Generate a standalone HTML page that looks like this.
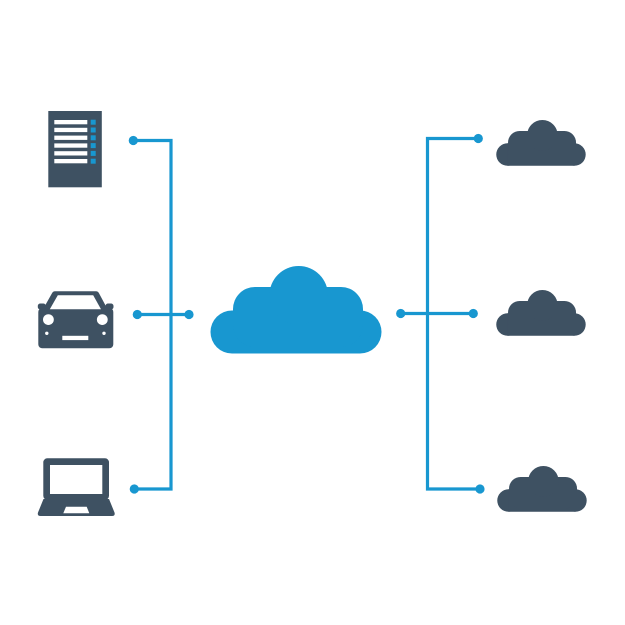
<!DOCTYPE html>
<html>
<head>
<meta charset="utf-8">
<style>
html,body{margin:0;padding:0;background:#ffffff;}
svg{display:block;}
</style>
</head>
<body>
<svg width="625" height="625" viewBox="0 0 625 625" xmlns="http://www.w3.org/2000/svg">
  <defs>
    <g id="cloud">
      <circle cx="232" cy="332" r="21.5"/>
      <circle cx="360" cy="332" r="21.5"/>
      <rect x="232" y="310.5" width="128" height="43"/>
      <rect x="233" y="287" width="130" height="60" rx="22" ry="22"/>
      <circle cx="298.7" cy="295.3" r="29.3"/>
    </g>
  </defs>

  <!-- connectors -->
  <g stroke="#1897d0" stroke-width="3.2" fill="none" stroke-linecap="butt">
    <polyline points="133,140.5 171,140.5 171,489 134,489"/>
    <line x1="137" y1="314.5" x2="189" y2="314.5"/>
    <polyline points="478.5,138.5 427.5,138.5 427.5,489 480,489"/>
    <line x1="400.7" y1="313.5" x2="473.3" y2="313.5"/>
  </g>
  <g fill="#1897d0">
    <circle cx="133.3" cy="140.5" r="4.6"/>
    <circle cx="137.3" cy="314.5" r="4.6"/>
    <circle cx="189" cy="314.5" r="4.6"/>
    <circle cx="134.3" cy="489" r="4.6"/>
    <circle cx="478.3" cy="138.5" r="4.6"/>
    <circle cx="400.7" cy="313.5" r="4.6"/>
    <circle cx="473.3" cy="313.5" r="4.6"/>
    <circle cx="480" cy="489" r="4.6"/>
  </g>

  <!-- central cloud -->
  <g fill="#1897d0"><use href="#cloud"/></g>

  <!-- right clouds -->
  <g fill="#3e5162">
    <g transform="translate(496,120) scale(0.523) translate(-210,-266)"><use href="#cloud"/></g>
    <g transform="translate(496,290) scale(0.523) translate(-210,-266)"><use href="#cloud"/></g>
    <g transform="translate(497,466) scale(0.523) translate(-210,-266)"><use href="#cloud"/></g>
  </g>

  <!-- server -->
  <rect x="48.3" y="111" width="53.5" height="76.3" fill="#3e5162"/>
  <g fill="#ffffff">
    <rect x="54.3" y="120" width="33" height="4.3"/>
    <rect x="54.3" y="127.8" width="33" height="4.3"/>
    <rect x="54.3" y="135.6" width="33" height="4.3"/>
    <rect x="54.3" y="143.4" width="33" height="4.3"/>
    <rect x="54.3" y="151.2" width="33" height="4.3"/>
    <rect x="54.3" y="159" width="33" height="4.3"/>
  </g>
  <g fill="#1897d0">
    <rect x="90.7" y="119.7" width="5" height="5"/>
    <rect x="90.7" y="127.5" width="5" height="5"/>
    <rect x="90.7" y="135.3" width="5" height="5"/>
    <rect x="90.7" y="143.1" width="5" height="5"/>
    <rect x="90.7" y="150.9" width="5" height="5"/>
    <rect x="90.7" y="158.7" width="5" height="5"/>
  </g>

  <!-- car -->
  <g fill="#3e5162">
    <path d="M55 291.3 L96 291.3 Q98 291.3 99 293.3 L108.5 311 L42 311 L52 293.3 Q53 291.3 55 291.3 Z"/>
    <rect x="38.3" y="308" width="75" height="40.3" rx="4" ry="4"/>
    <rect x="37.8" y="303.5" width="8" height="6" rx="2.5" ry="2.5"/>
    <rect x="105.5" y="303.5" width="8" height="6" rx="2.5" ry="2.5"/>
  </g>
  <g fill="#ffffff">
    <path d="M57.8 295.2 L93.2 295.2 L101 309.3 L49.8 309.3 Z"/>
    <circle cx="48.4" cy="319.6" r="5.4"/>
    <circle cx="102.3" cy="319.6" r="5.4"/>
    <circle cx="46.8" cy="333.3" r="1.7"/>
    <circle cx="104" cy="333.3" r="1.7"/>
    <rect x="62.3" y="335.8" width="26" height="4.3"/>
  </g>

  <!-- laptop -->
  <rect x="43.3" y="458.3" width="65.7" height="41.5" rx="4" ry="4" fill="#3e5162"/>
  <rect x="50" y="465" width="52.3" height="29" fill="#ffffff"/>
  <path d="M43.5 499 L109 499 L114.5 512.5 Q115.5 516 112 516 L40.5 516 Q37 516 38 512.5 Z" fill="#3e5162"/>
  <path d="M66 506.7 L86.7 506.7 L89.3 513.3 L63.3 513.3 Z" fill="#ffffff"/>
</svg>
</body>
</html>
